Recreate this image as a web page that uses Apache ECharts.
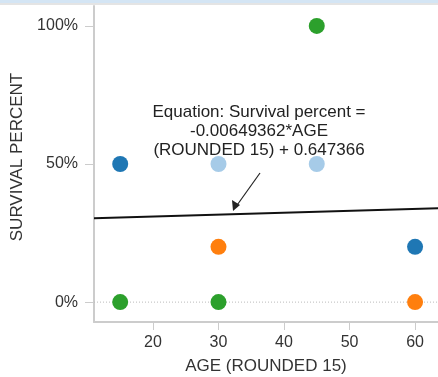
<!DOCTYPE html>
<html><head><meta charset="utf-8">
<script src="https://cdn.jsdelivr.net/npm/echarts@6/dist/echarts.min.js"></script>
<style>html,body{margin:0;padding:0;background:#fff}#c{width:438px;height:377px}</style>
</head><body><div id="c"></div>
<script>
// Data
const xTicks = [20, 30, 40, 50, 60];
const yTicks = [0, 0.5, 1];
const darkBlue = [[15, 0.5], [60, 0.2]];
const lightBlue = [[30, 0.5], [45, 0.5]];
const orange = [[30, 0.2], [60, 0]];
const green = [[45, 1.0], [15, 0], [30, 0]];
const trendLine = [[11, 0.304], [63.5, 0.34]];
const equationText = 'Equation: Survival percent =\n-0.00649362*AGE\n(ROUNDED 15) + 0.647366';

const chart = echarts.init(document.getElementById('c'));
const font = 'Arial, "Liberation Sans", sans-serif';
const mk = (data, color) => ({
  type: 'scatter', data, symbolSize: 16, itemStyle: {color, opacity: 1}, z: 3
});
chart.setOption({
  animation: false,
  grid: {left: 94, right: 0, top: 6, bottom: 55, containLabel: false, outerBoundsMode: 'none'},
  xAxis: {
    type: 'value', min: 11, max: 63.5,
    name: 'AGE (ROUNDED 15)', nameLocation: 'middle', nameGap: 36,
    nameTextStyle: {fontFamily: font, fontSize: 17, color: '#333'},
    axisLine: {show: true, onZero: false, lineStyle: {color: '#ccc', width: 2}},
    axisTick: {show: true, customValues: xTicks, length: 8, lineStyle: {color: '#ccc'}},
    axisLabel: {customValues: xTicks, fontFamily: font, fontSize: 16, color: '#333', margin: 13},
    splitLine: {show: false}
  },
  yAxis: {
    type: 'value', min: -0.072, max: 1.072,
    name: 'SURVIVAL PERCENT', nameLocation: 'middle', nameGap: 62, nameRotate: 90,
    nameTextStyle: {fontFamily: font, fontSize: 17, color: '#333', padding: [0, 0, 0, 14]},
    axisLine: {show: true, onZero: false, lineStyle: {color: '#ccc', width: 2}},
    axisTick: {show: true, customValues: yTicks, length: 9, lineStyle: {color: '#ccc'}},
    axisLabel: {customValues: yTicks, fontFamily: font, fontSize: 16, color: '#333', margin: 16,
      formatter: v => Math.round(v * 100) + '%'},
    splitLine: {show: false}
  },
  series: [
    {type: 'line', data: [[11, 0], [63.5, 0]], symbol: 'none', silent: true,
     lineStyle: {color: '#bbb', width: 1, type: [1, 2]}, z: 1},
    mk(darkBlue, '#1f77b4'),
    mk(lightBlue, '#a6cbe8'),
    mk(orange, '#ff7f0e'),
    mk(green, '#2ca02c'),
    {type: 'line', data: trendLine, symbol: 'none', lineStyle: {color: '#111', width: 2}, z: 4}
  ],
  graphic: [
    {type: 'rect', shape: {x: 0, y: 0, width: 438, height: 3}, style: {fill: '#d4e5f4'}},
    {type: 'rect', shape: {x: 0, y: 3, width: 438, height: 2}, style: {fill: '#e4e4e4'}},
    {type: 'text', x: 259, y: 103, style: {text: equationText, fontFamily: font, fontSize: 17,
      fill: '#222', align: 'center', verticalAlign: 'top', lineHeight: 19}, z: 10},
    {type: 'line', shape: {x1: 260, y1: 173, x2: 235, y2: 208}, style: {stroke: '#222', lineWidth: 1.2}, z: 10},
    {type: 'polygon', shape: {points: [[233, 211], [232, 200], [240, 205]]}, style: {fill: '#222'}, z: 10}
  ]
});
</script></body></html>
